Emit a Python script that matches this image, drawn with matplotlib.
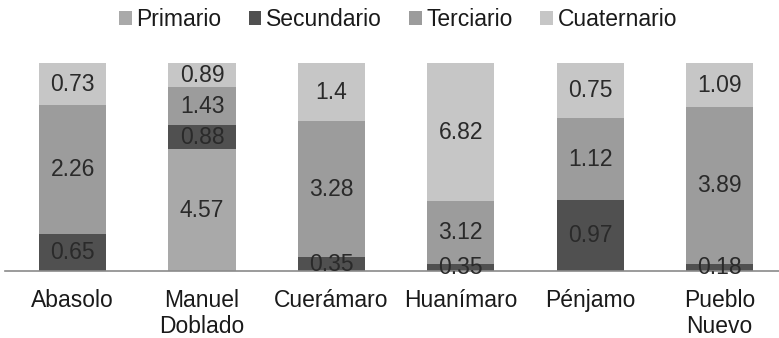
import matplotlib.pyplot as plt
import numpy as np

# municipios y sectores
municipios = ['Abasolo', 'Manuel\nDoblado', 'Cuerámaro', 'Huanímaro', 'Pénjamo', 'Pueblo\nNuevo']
sectores = ['Primario', 'Secundario', 'Terciario', 'Cuaternario']

primario = [0, 4.57, 0, 0, 0, 0]
secundario = [0.65, 0.88, 0.35, 0.35, 0.97, 0.18]
terciario = [2.26, 1.43, 3.28, 3.12, 1.12, 3.89]
cuaternario = [0.73, 0.89, 1.4, 6.82, 0.75, 1.09]

colores = ['#a9a9a9', '#505050', '#9c9c9c', '#c6c6c6']

plt.rcParams['font.family'] = ['Liberation Sans', 'DejaVu Sans']
FS = 16.5

fig = plt.figure(figsize=(7.79, 3.38), dpi=100)
ax = fig.add_axes([0.007, 0.197, 0.993, 0.616])

datos = np.array([primario, secundario, terciario, cuaternario])
total = datos.sum(axis=0)
pct = datos / total
x = np.arange(len(municipios))
abajo = np.zeros(len(municipios))
for i, nombre in enumerate(sectores):
    ax.bar(x, pct[i], 0.52, bottom=abajo, color=colores[i], label=nombre, linewidth=0)
    for j in range(len(municipios)):
        if datos[i, j] > 0:
            ax.text(x[j], abajo[j] + pct[i, j] / 2, '%g' % datos[i, j],
                    ha='center', va='center', fontsize=FS, color='#2a2a2a')
    abajo += pct[i]

ax.set_xlim(-0.52, 5.46)
ax.set_ylim(0, 1)
ax.set_yticks([])
ax.set_xticks(x)
ax.set_xticklabels(municipios, fontsize=FS, color='#1a1a1a', va='top', linespacing=1.12)
ax.tick_params(axis='x', length=0, pad=13)
for s in ['top', 'right', 'left']:
    ax.spines[s].set_visible(False)
ax.spines['bottom'].set_color('#8a8a8a')
ax.spines['bottom'].set_linewidth(1.2)

fig.legend(loc='center', bbox_to_anchor=(0.511, 0.942), ncol=4, frameon=False,
           fontsize=FS, handlelength=0.55, handleheight=0.55, handletextpad=0.2,
           columnspacing=1.2, labelcolor='#1a1a1a')

fig.savefig('out.png', dpi=100)
